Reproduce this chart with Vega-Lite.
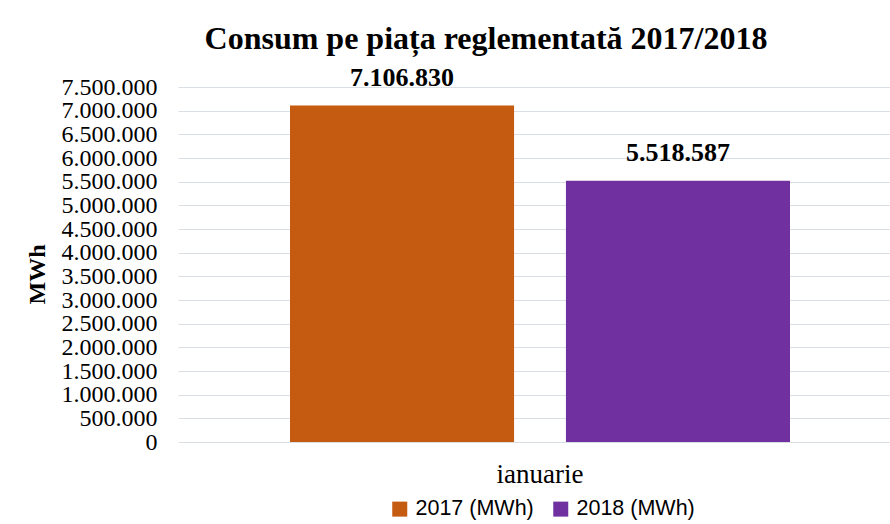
{
  "$schema": "https://vega.github.io/schema/vega-lite/v6.json",
  "autosize": {"type": "none"},
  "width": 724,
  "height": 355,
  "padding": {"left": 178, "top": 87, "right": 0, "bottom": 82},
  "background": "white",
  "config": {
    "locale": {"number": {"decimal": ",", "thousands": ".", "grouping": [3], "currency": ["", ""]}},
    "view": {"stroke": null}
  },
  "title": {
    "text": "Consum pe piața reglementată 2017/2018",
    "font": "Liberation Serif",
    "fontWeight": "bold",
    "fontSize": 32,
    "color": "black",
    "anchor": "middle",
    "frame": "group",
    "dx": -54,
    "offset": 9
  },
  "data": {
    "values": [
      {"luna": "ianuarie", "serie": "2017 (MWh)", "valoare": 7106830},
      {"luna": "ianuarie", "serie": "2018 (MWh)", "valoare": 5518587}
    ]
  },
  "encoding": {
    "x": {
      "field": "luna",
      "type": "nominal",
      "scale": {"paddingInner": 0, "paddingOuter": 0.224},
      "axis": {
        "title": null,
        "labelAngle": 0,
        "domain": false,
        "ticks": false,
        "labelFont": "Liberation Serif",
        "labelFontSize": 27,
        "labelColor": "black",
        "labelPadding": 19
      }
    },
    "xOffset": {
      "field": "serie",
      "type": "nominal",
      "scale": {"paddingInner": 0.188, "paddingOuter": 0}
    },
    "y": {
      "field": "valoare",
      "type": "quantitative",
      "scale": {"domain": [0, 7500000], "nice": false},
      "axis": {
        "title": "MWh",
        "values": [0, 500000, 1000000, 1500000, 2000000, 2500000, 3000000, 3500000, 4000000, 4500000, 5000000, 5500000, 6000000, 6500000, 7000000, 7500000],
        "format": ",",
        "formatType": "number",
        "labelOverlap": false,
        "labelExpr": "format(datum.value, ',')",
        "domain": false,
        "ticks": false,
        "labelFont": "Liberation Serif",
        "labelFontSize": 24,
        "labelColor": "black",
        "labelPadding": 21,
        "grid": true,
        "gridColor": "#DADFE5",
        "gridWidth": 1.2,
        "titleFont": "Liberation Serif",
        "titleFontSize": 24,
        "titleFontWeight": "bold",
        "titleColor": "black",
        "titleAngle": -90,
        "titleX": -141,
        "titleY": 187,
        "titleAlign": "center",
        "titleBaseline": "middle"
      }
    }
  },
  "layer": [
    {
      "mark": {"type": "bar"},
      "encoding": {
        "color": {
          "field": "serie",
          "type": "nominal",
          "scale": {"domain": ["2017 (MWh)", "2018 (MWh)"], "range": ["#C55A11", "#7030A0"]},
          "legend": {
            "title": null,
            "orient": "none",
            "direction": "horizontal",
            "legendX": 211,
            "legendY": 411,
            "symbolType": "square",
            "symbolSize": 225,
            "symbolStrokeWidth": 0,
            "symbolOpacity": 1,
            "labelFont": "Liberation Sans",
            "labelFontSize": 21.5,
            "labelColor": "black",
            "labelOffset": 5,
            "columnPadding": 16
          }
        }
      }
    },
    {
      "mark": {
        "type": "text",
        "font": "Liberation Serif",
        "fontWeight": "bold",
        "fontSize": 26,
        "color": "black",
        "baseline": "alphabetic",
        "dy": -20
      },
      "encoding": {
        "text": {"field": "valoare", "type": "quantitative", "format": ","}
      }
    }
  ]
}
